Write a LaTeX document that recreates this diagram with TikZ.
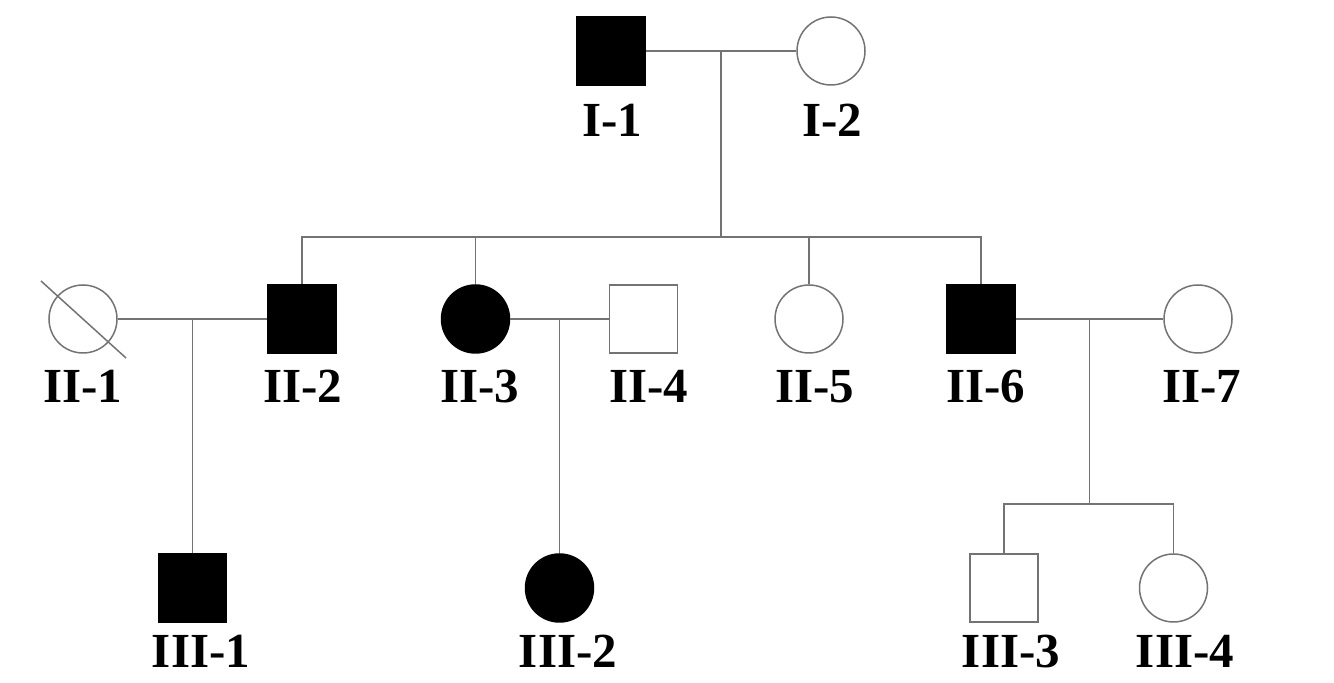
\documentclass[tikz,border=0pt]{standalone}
\usepackage{fontspec}
\setmainfont{Liberation Serif}
\usetikzlibrary{positioning, calc}

\begin{document}
\begin{tikzpicture}[
	x=0.5pt, y=-0.5pt,
	male/.style={rectangle, draw=black!55, line width=0.75pt, inner sep=0pt, minimum size=34pt},
	female/.style={circle, draw=black!55, line width=0.75pt, inner sep=0pt, minimum size=34pt},
	affmale/.style={male, draw=black, fill=black},
	afffemale/.style={female, draw=black, fill=black},
	mylabel/.style={anchor=base, inner sep=0pt, font=\fontsize{24.5}{28}\selectfont\bfseries},
	link/.style={draw=black!55, line width=0.75pt}
]
\useasboundingbox (0,0) rectangle (1334,683);

\node[affmale] (i1) at (611,51) {};
\node[female] (i2) at (831,51) {};
\node[mylabel] (i1text) at (612,137) {I-1};
\node[mylabel] (i2text) at (832,137) {I-2};

\node[female] (ii1) at (83,319) {};
\node[affmale] (ii2) at (302,319) {};
\node[afffemale] (ii3) at (475.5,319) {};
\node[male] (ii4) at (643.5,319) {};
\node[female] (ii5) at (809,319) {};
\node[affmale] (ii6) at (981,319) {};
\node[female] (ii7) at (1198,319) {};
\node[mylabel] (ii1text) at (83,403) {II-1};
\node[mylabel] (ii2text) at (303,403) {II-2};
\node[mylabel] (ii3text) at (480,403) {II-3};
\node[mylabel] (ii4text) at (649,403) {II-4};
\node[mylabel] (ii5text) at (815,403) {II-5};
\node[mylabel] (ii6text) at (986,403) {II-6};
\node[mylabel] (ii7text) at (1202,403) {II-7};

\node[affmale] (iii1) at (192.5,588) {};
\node[afffemale] (iii2) at (559.5,588) {};
\node[male] (iii3) at (1004,588) {};
\node[female] (iii4) at (1173.5,588) {};
\node[mylabel] (iii1text) at (201,668) {III-1};
\node[mylabel] (iii2text) at (568,668) {III-2};
\node[mylabel] (iii3text) at (1011,668) {III-3};
\node[mylabel] (iii4text) at (1185,668) {III-4};

\coordinate (m1) at ($(i1)!0.5!(i2)$);
\coordinate (m2) at ($(ii1)!0.5!(ii2)$);
\coordinate (m3) at ($(ii3)!0.5!(ii4)$);
\coordinate (m4) at ($(ii6)!0.5!(ii7)$);
\coordinate (s1) at (m1 |- 0,237);
\coordinate (s4) at (m4 |- 0,504);

\draw[link] (i1) -- (i2);
\draw[link] (ii1) -- (ii2);
\draw[link] (ii3) -- (ii4);
\draw[link] (ii6) -- (ii7);

\draw[link] (m1) -- (s1);
\draw[link] (ii2.north) |- (s1) -| (ii6.north);
\draw[link] (ii3.north) -- (ii3.north |- s1);
\draw[link] (ii5.north) -- (ii5.north |- s1);

\draw[link] (m2) -- (iii1.north);
\draw[link] (m3) -- (iii2.north);
\draw[link] (m4) -- (s4);
\draw[link] (iii3.north) |- (s4) -| (iii4.north);

\draw[link] ([shift={(-42,-38)}]ii1.center) -- ([shift={(43,39)}]ii1.center);

\end{tikzpicture}
\end{document}
